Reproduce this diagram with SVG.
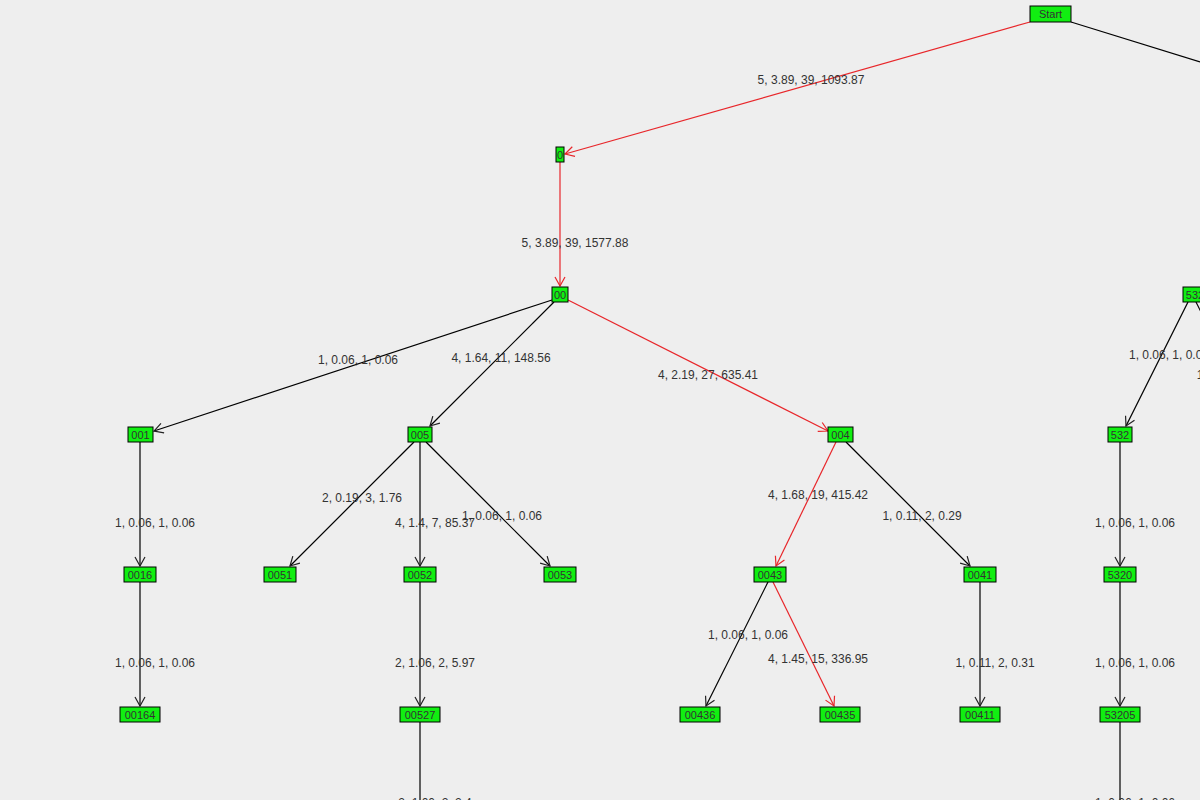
<svg xmlns="http://www.w3.org/2000/svg" width="1200" height="800" viewBox="0 0 1200 800">
<style>
.n rect{fill:#11ee11;stroke:#000;stroke-width:1}
.n text,.l{font-family:"Liberation Sans",Arial,sans-serif;font-size:11px;fill:#333;text-anchor:middle}
.l{font-size:12px}
.e line{stroke:#000;stroke-width:1.2}
.e line.r{stroke:#e8262a}
</style>
<defs>
<marker id="a" markerWidth="12" markerHeight="12" refX="0" refY="0" viewBox="-10 -6 12 12" orient="auto" markerUnits="userSpaceOnUse"><path d="M-9,-5 L0,0 L-9,5" fill="none" stroke="#222" stroke-width="1.2"/></marker>
<marker id="ar" markerWidth="12" markerHeight="12" refX="0" refY="0" viewBox="-10 -6 12 12" orient="auto" markerUnits="userSpaceOnUse"><path d="M-9,-5 L0,0 L-9,5" fill="none" stroke="#e8262a" stroke-width="1.2"/></marker>
</defs>
<rect width="1200" height="800" fill="#eeeeee"/>
<g class="e">
<line class="r" x1="1030" y1="22" x2="565" y2="154" marker-end="url(#ar)"/>
<line x1="1071" y1="22" x2="1200" y2="62"/>
<line class="r" x1="560" y1="162" x2="560" y2="286" marker-end="url(#ar)"/>
<line x1="552" y1="300" x2="154" y2="431" marker-end="url(#a)"/>
<line x1="554" y1="302" x2="430" y2="426" marker-end="url(#a)"/>
<line class="r" x1="568" y1="300" x2="828" y2="431" marker-end="url(#ar)"/>
<line x1="414" y1="442" x2="290" y2="566" marker-end="url(#a)"/>
<line x1="420" y1="442" x2="420" y2="566" marker-end="url(#a)"/>
<line x1="426" y1="442" x2="550" y2="566" marker-end="url(#a)"/>
<line class="r" x1="836" y1="442" x2="776" y2="566" marker-end="url(#ar)"/>
<line x1="846" y1="442" x2="970" y2="566" marker-end="url(#a)"/>
<line x1="140" y1="442" x2="140" y2="566" marker-end="url(#a)"/>
<line x1="140" y1="582" x2="140" y2="706" marker-end="url(#a)"/>
<line x1="420" y1="582" x2="420" y2="706" marker-end="url(#a)"/>
<line x1="420" y1="722" x2="420" y2="800"/>
<line x1="768" y1="582" x2="706" y2="706" marker-end="url(#a)"/>
<line class="r" x1="773" y1="582" x2="834" y2="706" marker-end="url(#ar)"/>
<line x1="980" y1="582" x2="980" y2="706" marker-end="url(#a)"/>
<line x1="1188" y1="302" x2="1126" y2="426" marker-end="url(#a)"/>
<line x1="1196" y1="302" x2="1202" y2="314"/>
<line x1="1120" y1="442" x2="1120" y2="566" marker-end="url(#a)"/>
<line x1="1120" y1="582" x2="1120" y2="706" marker-end="url(#a)"/>
<line x1="1120" y1="722" x2="1120" y2="800"/>
</g>
<g>
<text class="l" x="811" y="84">5, 3.89, 39, 1093.87</text>
<text class="l" x="575" y="247">5, 3.89, 39, 1577.88</text>
<text class="l" x="358" y="364">1, 0.06, 1, 0.06</text>
<text class="l" x="501" y="362">4, 1.64, 11, 148.56</text>
<text class="l" x="708" y="379">4, 2.19, 27, 635.41</text>
<text class="l" x="155" y="527">1, 0.06, 1, 0.06</text>
<text class="l" x="362" y="502">2, 0.19, 3, 1.76</text>
<text class="l" x="435" y="527">4, 1.4, 7, 85.37</text>
<text class="l" x="502" y="520">1, 0.06, 1, 0.06</text>
<text class="l" x="818" y="499">4, 1.68, 19, 415.42</text>
<text class="l" x="922" y="520">1, 0.11, 2, 0.29</text>
<text class="l" x="155" y="667">1, 0.06, 1, 0.06</text>
<text class="l" x="435" y="667">2, 1.06, 2, 5.97</text>
<text class="l" x="748" y="639">1, 0.06, 1, 0.06</text>
<text class="l" x="818" y="663">4, 1.45, 15, 336.95</text>
<text class="l" x="995" y="667">1, 0.11, 2, 0.31</text>
<text class="l" x="1135" y="527">1, 0.06, 1, 0.06</text>
<text class="l" x="1135" y="667">1, 0.06, 1, 0.06</text>
<text class="l" x="1169" y="359">1, 0.06, 1, 0.06</text>
<text class="l" x="1200" y="379">1</text>
<text class="l" x="435" y="807">2, 1.00, 2, 2.4</text>
<text class="l" x="1135" y="807">1, 0.06, 1, 0.06</text>
</g>
<g id="n-start" class="n"><rect x="1030" y="6" width="41" height="16"/><text x="1050.5" y="18">Start</text></g>
<g id="n-0" class="n"><rect x="556" y="147" width="8" height="15"/><text x="560" y="159">0</text></g>
<g id="n-00" class="n"><rect x="552" y="287" width="16" height="15"/><text x="560" y="299">00</text></g>
<g id="n-53x" class="n"><rect x="1183" y="287" width="24" height="15"/><text x="1195" y="299">532</text></g>
<g id="n-001" class="n"><rect x="128" y="427" width="25" height="15"/><text x="140.5" y="439">001</text></g>
<g id="n-005" class="n"><rect x="408" y="427" width="24" height="15"/><text x="420" y="439">005</text></g>
<g id="n-004" class="n"><rect x="828" y="427" width="25" height="15"/><text x="840.5" y="439">004</text></g>
<g id="n-532" class="n"><rect x="1108" y="427" width="24" height="15"/><text x="1120" y="439">532</text></g>
<g id="n-0016" class="n"><rect x="124" y="567" width="32" height="15"/><text x="140" y="579">0016</text></g>
<g id="n-0051" class="n"><rect x="264" y="567" width="32" height="15"/><text x="280" y="579">0051</text></g>
<g id="n-0052" class="n"><rect x="404" y="567" width="32" height="15"/><text x="420" y="579">0052</text></g>
<g id="n-0053" class="n"><rect x="544" y="567" width="32" height="15"/><text x="560" y="579">0053</text></g>
<g id="n-0043" class="n"><rect x="754" y="567" width="32" height="15"/><text x="770" y="579">0043</text></g>
<g id="n-0041" class="n"><rect x="964" y="567" width="32" height="15"/><text x="980" y="579">0041</text></g>
<g id="n-5320" class="n"><rect x="1104" y="567" width="32" height="15"/><text x="1120" y="579">5320</text></g>
<g id="n-00164" class="n"><rect x="120" y="707" width="40" height="15"/><text x="140" y="719">00164</text></g>
<g id="n-00527" class="n"><rect x="400" y="707" width="40" height="15"/><text x="420" y="719">00527</text></g>
<g id="n-00436" class="n"><rect x="680" y="707" width="40" height="15"/><text x="700" y="719">00436</text></g>
<g id="n-00435" class="n"><rect x="820" y="707" width="40" height="15"/><text x="840" y="719">00435</text></g>
<g id="n-00411" class="n"><rect x="960" y="707" width="40" height="15"/><text x="980" y="719">00411</text></g>
<g id="n-53205" class="n"><rect x="1100" y="707" width="40" height="15"/><text x="1120" y="719">53205</text></g>
</svg>
